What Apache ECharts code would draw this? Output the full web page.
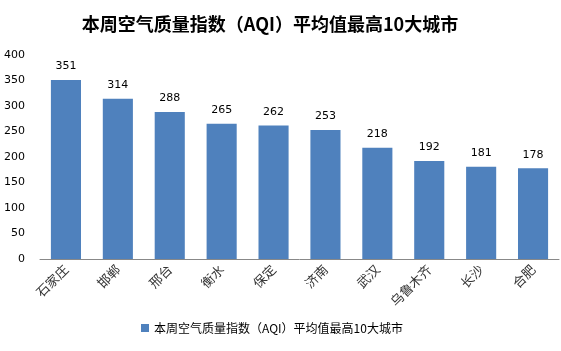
<!DOCTYPE html>
<html><head><meta charset="utf-8">
<script src="https://cdn.jsdelivr.net/npm/echarts@6/dist/echarts.min.js"></script>
<style>html,body{margin:0;padding:0;background:#fff}#c{width:561px;height:351px}</style>
</head><body><div id="c"></div>
<script>
const categories = ['石家庄','邯郸','邢台','衡水','保定','济南','武汉','乌鲁木齐','长沙','合肥'];
const values = [351,314,288,265,262,253,218,192,181,178];
const seriesName = '本周空气质量指数（AQI）平均值最高10大城市';
const titleText = '本周空气质量指数（AQI）平均值最高10大城市';
const chart = echarts.init(document.getElementById('c'));
chart.setOption({
  animation:false,
  title:{text:titleText,left:265,textAlign:'center',top:10,textStyle:{fontSize:18,fontWeight:'bold',color:'#000',fontFamily:'Noto Sans CJK SC'}},
  legend:{bottom:12,left:136,itemWidth:8,itemHeight:8,icon:'rect',itemGap:4,textStyle:{fontSize:12,color:'#000',fontFamily:'Noto Sans CJK SC'}},
  grid:{left:40,right:2,top:55,bottom:92,containLabel:false},
  xAxis:{type:'category',data:categories,axisLine:{lineStyle:{color:'#888'}},axisTick:{show:false},
    axisLabel:{rotate:45,interval:0,fontSize:13,color:'#333',margin:8,fontFamily:'Noto Sans CJK SC'}},
  yAxis:{type:'value',min:0,max:400,interval:50,splitLine:{show:false},axisLine:{show:false},axisTick:{show:false},
    axisLabel:{fontSize:11,color:'#000',margin:15,fontFamily:'Verdana, DejaVu Sans'}},
  series:[{name:seriesName,type:'bar',data:values,barWidth:'58%',itemStyle:{color:'#4F81BD'},
    label:{show:true,position:'top',distance:8,fontSize:11,color:'#000',fontFamily:'Verdana, DejaVu Sans'}}]
});
</script></body></html>
